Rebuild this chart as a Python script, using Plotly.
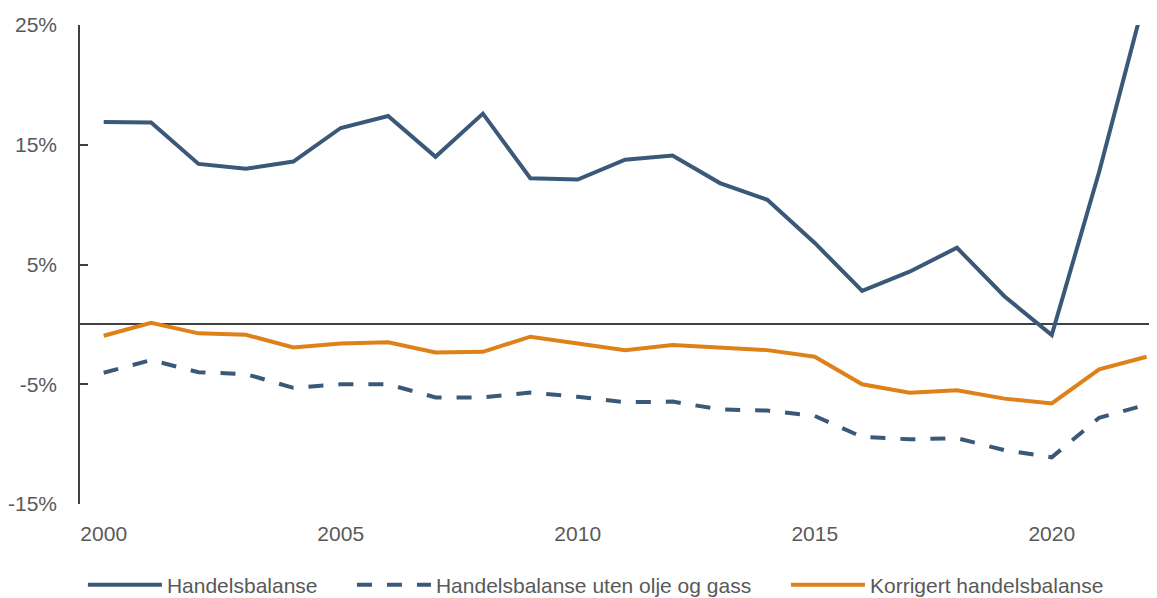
import plotly.graph_objects as go

years = list(range(2000, 2023))
handelsbalanse = [16.9, 16.85, 13.4, 13.0, 13.6, 16.4, 17.4, 14.0, 17.6, 12.2, 12.1, 13.75,
                  14.1, 11.8, 10.4, 6.8, 2.8, 4.4, 6.4, 2.35, -0.9, 12.75, 27.8]
uten_olje_gass = [-4.04, -2.98, -4.0, -4.15, -5.3, -5.0, -5.0, -6.1, -6.1, -5.7, -6.05, -6.5,
                  -6.45, -7.1, -7.2, -7.65, -9.4, -9.6, -9.5, -10.5, -11.1, -7.8, -6.7]
korrigert = [-0.95, 0.13, -0.75, -0.87, -1.92, -1.6, -1.5, -2.34, -2.29, -1.03, -1.6, -2.15,
             -1.73, -1.92, -2.15, -2.7, -5.0, -5.7, -5.5, -6.2, -6.6, -3.76, -2.7]

names = ["Handelsbalanse", "Handelsbalanse uten olje og gass", "Korrigert handelsbalanse"]
y_ticks = [-15, -5, 5, 15, 25]
x_ticks = [2000, 2005, 2010, 2015, 2020]

BLUE = "#3A5878"
ORANGE = "#DE8119"
FONT = "Liberation Sans"
TXT = "#595959"

fig = go.Figure()
fig.add_trace(go.Scatter(x=years, y=handelsbalanse, name=names[0], mode="lines",
                         line=dict(color=BLUE, width=4), legend="legend"))
fig.add_trace(go.Scatter(x=years, y=uten_olje_gass, name=names[1], mode="lines",
                         line=dict(color=BLUE, width=4, dash="15px,15px"), legend="legend2"))
fig.add_trace(go.Scatter(x=years, y=korrigert, name=names[2], mode="lines",
                         line=dict(color=ORANGE, width=4), legend="legend3"))

leg_common = dict(orientation="h", y=0.022, yref="container", yanchor="middle",
                  xanchor="left",
                  font=dict(family=FONT, size=21, color=TXT), itemwidth=74,
                  bgcolor="rgba(0,0,0,0)", borderwidth=0)

fig.update_layout(
    width=1149, height=590,
    margin=dict(l=72, r=0, t=17, b=94, pad=0, autoexpand=False),
    plot_bgcolor="white", paper_bgcolor="white",
    font=dict(family=FONT, size=21, color=TXT),
    showlegend=True,
    legend=dict(x=0.0027, **leg_common),
    legend2=dict(x=0.2525, **leg_common),
    legend3=dict(x=0.6555, **leg_common),
    xaxis=dict(range=[1999.5, 2022.22], tickvals=x_ticks, showgrid=False, showline=False,
               zeroline=False, ticks="", ticklabelstandoff=15, automargin=False,
               tickfont=dict(family=FONT, size=21, color=TXT)),
    yaxis=dict(range=[-15, 25], tickvals=y_ticks, ticktext=[f"{v}%" for v in y_ticks],
               showgrid=False, showline=True, linecolor="#404040", linewidth=1.5,
               ticks="inside", ticklen=8, tickcolor="#404040", tickwidth=1.5,
               zeroline=True, zerolinecolor="#404040", zerolinewidth=2,
               ticklabelstandoff=17, automargin=False,
               tickfont=dict(family=FONT, size=21, color=TXT)),
)

fig.write_html("out.html")
